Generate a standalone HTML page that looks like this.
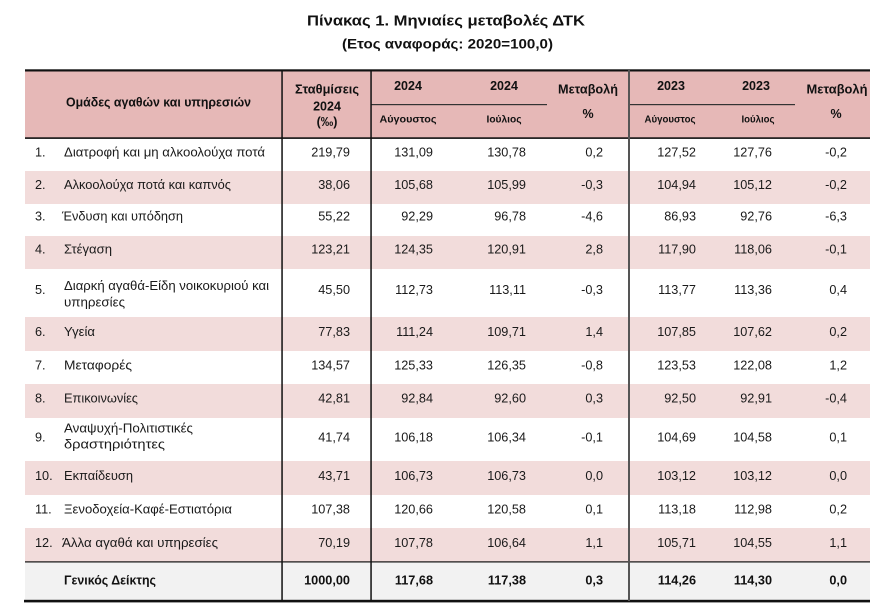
<!DOCTYPE html>
<html>
<head>
<meta charset="utf-8">
<style>
html,body{margin:0;padding:0;background:#fff;}
svg{display:block;}
text{font-family:"Liberation Sans","DejaVu Sans",sans-serif;fill:#1a1a1a;}
.b{font-weight:bold;fill:#111;}
.v{font-size:12.7px;text-anchor:end;}
.l{font-size:12.7px;}
.h{font-size:12.5px;font-weight:bold;fill:#111;text-anchor:middle;}
.s{font-size:10.5px;font-weight:bold;fill:#111;text-anchor:middle;}
</style>
</head>
<body>
<svg width="880" height="613" viewBox="0 0 880 613" xmlns="http://www.w3.org/2000/svg">
<rect x="0" y="0" width="880" height="613" fill="#fff"/>
<!-- Title -->
<text class="b" x="307" y="25.7" font-size="15" textLength="278" lengthAdjust="spacingAndGlyphs">Πίνακας 1. Μηνιαίες μεταβολές ΔΤΚ</text>
<text class="b" x="342" y="48.5" font-size="13.5" textLength="211" lengthAdjust="spacingAndGlyphs">(Ετος αναφοράς: 2020=100,0)</text>

<!-- header bg -->
<rect x="25" y="71" width="845" height="67" fill="#e6b8b7"/>
<!-- pink rows -->
<rect x="25" y="171" width="845" height="33" fill="#f2dcdb"/>
<rect x="25" y="236" width="845" height="33" fill="#f2dcdb"/>
<rect x="25" y="317" width="845" height="34" fill="#f2dcdb"/>
<rect x="25" y="384" width="845" height="34" fill="#f2dcdb"/>
<rect x="25" y="461" width="845" height="34" fill="#f2dcdb"/>
<rect x="25" y="528" width="845" height="34" fill="#f2dcdb"/>
<!-- total row -->
<rect x="25" y="562" width="845" height="38" fill="#f2f2f2"/>

<!-- horizontal lines -->
<rect x="25" y="69.3" width="845" height="2.2" fill="#111"/>
<rect x="25" y="137.3" width="845" height="1.6" fill="#111"/>
<rect x="25" y="561.3" width="845" height="1.2" fill="#111"/>
<rect x="24" y="599.8" width="846" height="2.6" fill="#111"/>
<rect x="371" y="104" width="176" height="1.2" fill="#333"/>
<rect x="629" y="104" width="166" height="1.2" fill="#333"/>

<!-- vertical lines -->
<rect x="281.3" y="70" width="1.5" height="531" fill="#111"/>
<rect x="370.3" y="70" width="1.5" height="531" fill="#111"/>
<rect x="628" y="70" width="2" height="531" fill="#555"/>

<!-- header text -->
<text class="b" x="66" y="106.5" font-size="12.5" textLength="185" lengthAdjust="spacingAndGlyphs">Ομάδες αγαθών και υπηρεσιών</text>
<text class="h" x="327" y="93.3" textLength="64" lengthAdjust="spacingAndGlyphs">Σταθμίσεις</text>
<text class="h" x="327" y="110.7">2024</text>
<text class="h" x="327" y="126">(‰)</text>

<text class="h" x="408" y="90">2024</text>
<text class="h" x="504" y="90">2024</text>
<text class="s" x="408" y="122.3" textLength="57" lengthAdjust="spacingAndGlyphs">Αύγουστος</text>
<text class="s" x="504" y="122.3" textLength="35" lengthAdjust="spacingAndGlyphs">Ιούλιος</text>
<text class="h" x="588" y="93.3" textLength="60" lengthAdjust="spacingAndGlyphs">Μεταβολή</text>
<text class="h" x="588" y="118">%</text>

<text class="h" x="671" y="90">2023</text>
<text class="h" x="756" y="90">2023</text>
<text class="s" x="670" y="122.3" textLength="51" lengthAdjust="spacingAndGlyphs">Αύγουστος</text>
<text class="s" x="758" y="122.3" textLength="33" lengthAdjust="spacingAndGlyphs">Ιούλιος</text>
<text class="h" x="837" y="93.3" textLength="61" lengthAdjust="spacingAndGlyphs">Μεταβολή</text>
<text class="h" x="836" y="118">%</text>

<!-- Row 1 -->
<text class="l" x="35" y="156.5">1.</text>
<text class="l" x="64" y="156.5" textLength="201" lengthAdjust="spacingAndGlyphs">Διατροφή και μη αλκοολούχα ποτά</text>
<text class="v" x="350" y="156.5">219,79</text>
<text class="v" x="433" y="156.5">131,09</text>
<text class="v" x="526" y="156.5">130,78</text>
<text class="v" x="603" y="156.5">0,2</text>
<text class="v" x="696" y="156.5">127,52</text>
<text class="v" x="772" y="156.5">127,76</text>
<text class="v" x="847" y="156.5">-0,2</text>

<!-- Row 2 -->
<text class="l" x="35" y="189">2.</text>
<text class="l" x="64" y="189" textLength="167" lengthAdjust="spacingAndGlyphs">Αλκοολούχα ποτά και καπνός</text>
<text class="v" x="350" y="189">38,06</text>
<text class="v" x="433" y="189">105,68</text>
<text class="v" x="526" y="189">105,99</text>
<text class="v" x="603" y="189">-0,3</text>
<text class="v" x="696" y="189">104,94</text>
<text class="v" x="772" y="189">105,12</text>
<text class="v" x="847" y="189">-0,2</text>

<!-- Row 3 -->
<text class="l" x="35" y="220.5">3.</text>
<text class="l" x="62" y="220.5" textLength="121" lengthAdjust="spacingAndGlyphs">Ένδυση και υπόδηση</text>
<text class="v" x="350" y="220.5">55,22</text>
<text class="v" x="433" y="220.5">92,29</text>
<text class="v" x="526" y="220.5">96,78</text>
<text class="v" x="603" y="220.5">-4,6</text>
<text class="v" x="696" y="220.5">86,93</text>
<text class="v" x="772" y="220.5">92,76</text>
<text class="v" x="847" y="220.5">-6,3</text>

<!-- Row 4 -->
<text class="l" x="35" y="253.5">4.</text>
<text class="l" x="64" y="253.5" textLength="48" lengthAdjust="spacingAndGlyphs">Στέγαση</text>
<text class="v" x="350" y="253.5">123,21</text>
<text class="v" x="433" y="253.5">124,35</text>
<text class="v" x="526" y="253.5">120,91</text>
<text class="v" x="603" y="253.5">2,8</text>
<text class="v" x="696" y="253.5">117,90</text>
<text class="v" x="772" y="253.5">118,06</text>
<text class="v" x="847" y="253.5">-0,1</text>

<!-- Row 5 -->
<text class="l" x="35" y="294">5.</text>
<text class="l" x="64" y="290" textLength="205" lengthAdjust="spacingAndGlyphs">Διαρκή αγαθά-Είδη νοικοκυριού και</text>
<text class="l" x="64" y="306.5" textLength="61" lengthAdjust="spacingAndGlyphs">υπηρεσίες</text>
<text class="v" x="350" y="294">45,50</text>
<text class="v" x="433" y="294">112,73</text>
<text class="v" x="526" y="294">113,11</text>
<text class="v" x="603" y="294">-0,3</text>
<text class="v" x="696" y="294">113,77</text>
<text class="v" x="772" y="294">113,36</text>
<text class="v" x="847" y="294">0,4</text>

<!-- Row 6 -->
<text class="l" x="35" y="336">6.</text>
<text class="l" x="64" y="336" textLength="31" lengthAdjust="spacingAndGlyphs">Υγεία</text>
<text class="v" x="350" y="336">77,83</text>
<text class="v" x="433" y="336">111,24</text>
<text class="v" x="526" y="336">109,71</text>
<text class="v" x="603" y="336">1,4</text>
<text class="v" x="696" y="336">107,85</text>
<text class="v" x="772" y="336">107,62</text>
<text class="v" x="847" y="336">0,2</text>

<!-- Row 7 -->
<text class="l" x="35" y="369.3">7.</text>
<text class="l" x="64" y="369.3" textLength="68" lengthAdjust="spacingAndGlyphs">Μεταφορές</text>
<text class="v" x="350" y="369.3">134,57</text>
<text class="v" x="433" y="369.3">125,33</text>
<text class="v" x="526" y="369.3">126,35</text>
<text class="v" x="603" y="369.3">-0,8</text>
<text class="v" x="696" y="369.3">123,53</text>
<text class="v" x="772" y="369.3">122,08</text>
<text class="v" x="847" y="369.3">1,2</text>

<!-- Row 8 -->
<text class="l" x="35" y="402.7">8.</text>
<text class="l" x="64" y="402.7" textLength="74" lengthAdjust="spacingAndGlyphs">Επικοινωνίες</text>
<text class="v" x="350" y="402.7">42,81</text>
<text class="v" x="433" y="402.7">92,84</text>
<text class="v" x="526" y="402.7">92,60</text>
<text class="v" x="603" y="402.7">0,3</text>
<text class="v" x="696" y="402.7">92,50</text>
<text class="v" x="772" y="402.7">92,91</text>
<text class="v" x="847" y="402.7">-0,4</text>

<!-- Row 9 -->
<text class="l" x="35" y="441.5">9.</text>
<text class="l" x="64" y="432.5" textLength="129" lengthAdjust="spacingAndGlyphs">Αναψυχή-Πολιτιστικές</text>
<text class="l" x="64" y="448.5" textLength="101" lengthAdjust="spacingAndGlyphs">δραστηριότητες</text>
<text class="v" x="350" y="441.5">41,74</text>
<text class="v" x="433" y="441.5">106,18</text>
<text class="v" x="526" y="441.5">106,34</text>
<text class="v" x="603" y="441.5">-0,1</text>
<text class="v" x="696" y="441.5">104,69</text>
<text class="v" x="772" y="441.5">104,58</text>
<text class="v" x="847" y="441.5">0,1</text>

<!-- Row 10 -->
<text class="l" x="35" y="480">10.</text>
<text class="l" x="64" y="480" textLength="69" lengthAdjust="spacingAndGlyphs">Εκπαίδευση</text>
<text class="v" x="350" y="480">43,71</text>
<text class="v" x="433" y="480">106,73</text>
<text class="v" x="526" y="480">106,73</text>
<text class="v" x="603" y="480">0,0</text>
<text class="v" x="696" y="480">103,12</text>
<text class="v" x="772" y="480">103,12</text>
<text class="v" x="847" y="480">0,0</text>

<!-- Row 11 -->
<text class="l" x="35" y="513.3">11.</text>
<text class="l" x="64" y="513.3" textLength="168" lengthAdjust="spacingAndGlyphs">Ξενοδοχεία-Καφέ-Εστιατόρια</text>
<text class="v" x="350" y="513.3">107,38</text>
<text class="v" x="433" y="513.3">120,66</text>
<text class="v" x="526" y="513.3">120,58</text>
<text class="v" x="603" y="513.3">0,1</text>
<text class="v" x="696" y="513.3">113,18</text>
<text class="v" x="772" y="513.3">112,98</text>
<text class="v" x="847" y="513.3">0,2</text>

<!-- Row 12 -->
<text class="l" x="35" y="547">12.</text>
<text class="l" x="62" y="547" textLength="156" lengthAdjust="spacingAndGlyphs">Άλλα αγαθά και υπηρεσίες</text>
<text class="v" x="350" y="547">70,19</text>
<text class="v" x="433" y="547">107,78</text>
<text class="v" x="526" y="547">106,64</text>
<text class="v" x="603" y="547">1,1</text>
<text class="v" x="696" y="547">105,71</text>
<text class="v" x="772" y="547">104,55</text>
<text class="v" x="847" y="547">1,1</text>

<!-- Total -->
<text class="l b" x="64" y="584.5" textLength="92" lengthAdjust="spacingAndGlyphs">Γενικός Δείκτης</text>
<text class="v b" x="350" y="584.5">1000,00</text>
<text class="v b" x="433" y="584.5">117,68</text>
<text class="v b" x="526" y="584.5">117,38</text>
<text class="v b" x="603" y="584.5">0,3</text>
<text class="v b" x="696" y="584.5">114,26</text>
<text class="v b" x="772" y="584.5">114,30</text>
<text class="v b" x="847" y="584.5">0,0</text>
</svg>
</body>
</html>
